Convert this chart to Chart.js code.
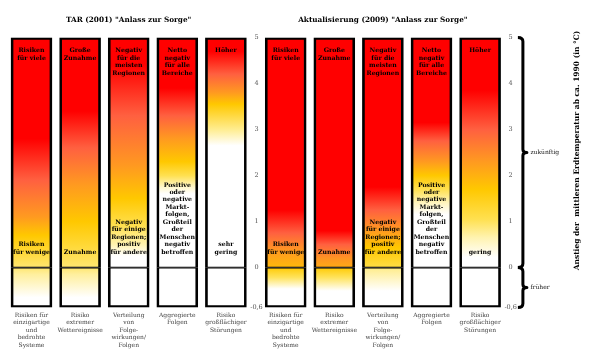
<!DOCTYPE html>
<html><head><meta charset="utf-8">
<script src="https://cdn.jsdelivr.net/npm/chart.js@4/dist/chart.umd.min.js"></script>
<style>
html,body{margin:0;padding:0;background:#fff;}
#wrap{position:relative;width:590px;height:359px;overflow:hidden;background:#fff;}
canvas{position:absolute;top:0;}
#cA{left:0}
#cB{left:258px}
</style></head><body>
<div id="wrap"><canvas id="cA" width="266" height="359"></canvas><canvas id="cB" width="332" height="359"></canvas></div>
<script>
// ---------------- DATA ----------------
const categories = [
  ["Risiken für","einzigartige","und","bedrohte","Systeme"],
  ["Risiko","extremer","Wettereignisse"],
  ["Verteilung","von","Folge-","wirkungen/","Folgen"],
  ["Aggregierte","Folgen"],
  ["Risiko","großflächiger","Störungen"]
];
const titleTAR = 'TAR (2001) "Anlass zur Sorge"';
const titleUpdate = 'Aktualisierung (2009) "Anlass zur Sorge"';
const axisTitle = "Anstieg der  mittleren Erdtemperatur ab ca. 1990 (in °C)";
const tempTicks = [-0.6, 0, 1, 2, 3, 4, 5];
const pastRange = [-0.6, 0];     // "früher"
const futureRange = [0, 5];      // "zukünftig"
const pastLabel = "früher";
const futureLabel = "zukünftig";
const topLabels = [
  ["Risiken","für viele"],
  ["Große","Zunahme"],
  ["Negativ","für die","meisten","Regionen"],
  ["Netto","negativ","für alle","Bereiche"],
  ["Höher"]
];
const bottomLabelsTAR = [
  ["Risiken","für wenige"],
  ["Zunahme"],
  ["Negativ","für einige","Regionen;","positiv","für andere"],
  ["Positive","oder","negative","Markt-","folgen,","Großteil","der","Menschen","negativ","betroffen"],
  ["sehr","gering"]
];
const bottomLabelsUpdate = [
  ["Risiken","für wenige"],
  ["Zunahme"],
  ["Negativ","für einige","Regionen;","positiv","für andere"],
  ["Positive","oder","negative","Markt-","folgen,","Großteil","der","Menschen","negativ","betroffen"],
  ["gering"]
];
// risk level (0 = none, 1 = high) at temperature, per category
const riskTAR = [
  [[5,1],[2.8,1],[1.9,0.8],[1.1,0.6],[0.7,0.45],[0.35,0.35],[0,0.25],[-0.1,0.18],[-0.45,0],[-0.6,0]],
  [[5,1],[3.4,1],[2.6,0.8],[1.8,0.6],[1.0,0.45],[0.5,0.35],[0,0.25],[-0.1,0.18],[-0.45,0],[-0.6,0]],
  [[5,1],[4.4,1],[3.3,0.8],[2.2,0.6],[1.5,0.45],[0.9,0.3],[0.5,0.15],[0.25,0],[-0.6,0]],
  [[5,1],[3.9,1],[3.3,0.8],[2.8,0.6],[2.3,0.45],[2.0,0.3],[1.75,0.1],[1.6,0],[-0.6,0]],
  [[5,1],[4.7,1],[4.2,0.8],[3.8,0.6],[3.55,0.45],[3.0,0.2],[2.65,0],[-0.6,0]]
];
const riskUpdate = [
  [[5,1],[1.25,1],[0.75,0.8],[0.35,0.6],[0,0.5],[-0.02,0.42],[-0.15,0.28],[-0.32,0],[-0.6,0]],
  [[5,1],[0.8,1],[0.5,0.8],[0.2,0.62],[0,0.55],[-0.02,0.42],[-0.15,0.28],[-0.35,0],[-0.6,0]],
  [[5,1],[1.75,1],[1.25,0.8],[0.8,0.6],[0.43,0.45],[0,0.32],[-0.02,0.2],[-0.35,0],[-0.6,0]],
  [[5,1],[3.15,1],[2.75,0.8],[2.3,0.6],[2.0,0.45],[1.7,0.3],[1.4,0.12],[1.15,0],[-0.6,0]],
  [[5,1],[3.85,1],[3.0,0.8],[2.3,0.6],[1.7,0.45],[1.05,0.3],[0.65,0.15],[0.22,0],[-0.6,0]]
];

// ---------------- STYLE / CODE ----------------
const FONT = '"DejaVu Serif", serif';
const RISK_PALETTE = [[0,[255,255,255]],[0.15,[255,243,176]],[0.3,[255,224,80]],[0.45,[255,200,0]],[0.6,[255,154,32]],[0.8,[255,96,64]],[1,[255,0,0]]];
function riskColor(r){
  for (let i=1;i<RISK_PALETTE.length;i++){
    const [r1,c1]=RISK_PALETTE[i-1],[r2,c2]=RISK_PALETTE[i];
    if (r<=r2){const t=(r-r1)/(r2-r1);return 'rgb('+c1.map((c,k)=>Math.round(c+(c2[k]-c)*t)).join(',')+')';}
  }
  return 'rgb(255,0,0)';
}
const BELOW_ZERO_SHARE = 0.148;
class BrokenLinearScale extends Chart.LinearScale {
  static id = 'brokenLinear';
  _zeroPx(){ return this.bottom - (this.bottom - this.top) * BELOW_ZERO_SHARE; }
  getPixelForValue(v){
    const z=this._zeroPx();
    if (v>=0) return z - (v/this.max)*(z-this.top);
    return z + (v/this.min)*(this.bottom-z);
  }
  getValueForPixel(p){
    const z=this._zeroPx();
    if (p<=z) return (z-p)/(z-this.top)*this.max;
    return (p-z)/(this.bottom-z)*this.min;
  }
}
Chart.register(BrokenLinearScale);

function gradientFor(ctx, risk){
  const chart=ctx.chart; if(!chart.chartArea) return '#fff';
  const y=chart.scales.y;
  const yTop=y.getPixelForValue(futureRange[1]), yBot=y.getPixelForValue(pastRange[0]);
  const g=chart.ctx.createLinearGradient(0,yBot,0,yTop);
  risk[ctx.dataIndex].forEach(([v,r])=>{
    g.addColorStop(Math.min(1,Math.max(0,(yBot-y.getPixelForValue(v))/(yBot-yTop))), riskColor(r));
  });
  return g;
}

function barTextPlugin(bottomLabels){
  return {
    id:'barText',
    afterDatasetsDraw(chart){
      const {ctx}=chart, y=chart.scales.y, meta=chart.getDatasetMeta(1);
      const lh=7.45;
      ctx.save();
      ctx.font='bold 6.2px '+FONT; ctx.fillStyle='#000'; ctx.textAlign='center'; ctx.textBaseline='middle';
      meta.data.forEach((bar,i)=>{
        const yt=y.getPixelForValue(futureRange[1])+13.3;
        topLabels[i].forEach((t,k)=>ctx.fillText(t,bar.x,yt+k*lh));
        const yb=y.getPixelForValue(0)-15.5, b=bottomLabels[i];
        b.forEach((t,k)=>ctx.fillText(t,bar.x,yb-(b.length-1-k)*lh));
      });
      ctx.restore();
    }
  };
}

const bracePlugin = {
  id:'brace',
  afterDraw(chart){
    const {ctx}=chart, y=chart.scales.y;
    const x=y.right+4.5;
    const y5=y.getPixelForValue(futureRange[1]), y0=y.getPixelForValue(0), yp=y.getPixelForValue(pastRange[0]);
    const ym1=y.getPixelForValue((futureRange[0]+futureRange[1])/2), ym2=y.getPixelForValue((pastRange[0]+pastRange[1])/2);
    ctx.save();
    ctx.strokeStyle='#000'; ctx.lineWidth=3; ctx.lineCap='butt'; ctx.lineJoin='round';
    function brace(a,m,b){
      ctx.beginPath();
      ctx.moveTo(x-5,a);
      ctx.quadraticCurveTo(x,a,x,a+4);
      ctx.lineTo(x,m-3);
      ctx.quadraticCurveTo(x,m,x+4,m);
      ctx.quadraticCurveTo(x,m,x,m+3);
      ctx.lineTo(x,b-4);
      ctx.quadraticCurveTo(x,b,x-5,b);
      ctx.stroke();
    }
    brace(y5,ym1,y0);
    brace(y0,ym2,yp);
    ctx.fillStyle='#111'; ctx.font='6px '+FONT; ctx.textAlign='left'; ctx.textBaseline='middle';
    ctx.fillText(futureLabel,x+7.5,ym1);
    ctx.fillText(pastLabel,x+7.5,ym2);
    ctx.translate(x+54.5, ym1-2);
    ctx.rotate(-Math.PI/2);
    ctx.font='bold 7.5px '+FONT; ctx.fillStyle='#000'; ctx.textAlign='center';
    ctx.fillText(axisTitle,0,0);
    ctx.restore();
  }
};

function buildChart(id, title, risk, bottomLabels, padLeft, padRight, extra){
  const ds=(range,bw)=>({
    data: categories.map(()=>range),
    backgroundColor: c=>gradientFor(c,risk),
    borderColor:'#000', borderWidth:bw, borderSkipped:false,
    barThickness:41, grouped:false
  });
  return new Chart(document.getElementById(id),{
    type:'bar',
    data:{labels:categories, datasets:[
      ds(pastRange,{top:1.2,left:2.7,right:2.7,bottom:2.7}),
      ds(futureRange,{top:2.7,left:2.7,right:2.7,bottom:1.2})
    ]},
    options:{
      responsive:false, animation:false, devicePixelRatio:1,
      layout:{padding:{left:padLeft,right:padRight,top:0,bottom:0}},
      plugins:{
        legend:{display:false}, tooltip:{enabled:false},
        title:{display:true,text:title,fullSize:false,color:'#000',
          font:{family:FONT,size:7.3,weight:'bold',lineHeight:1.2},padding:{top:15.6,bottom:13.1}}
      },
      scales:{
        x:{grid:{display:false,drawTicks:false},border:{display:false},
           ticks:{padding:4,color:'#444',font:{family:FONT,size:6,lineHeight:'7.5px'},maxRotation:0,minRotation:0,autoSkip:false},
           afterFit:s=>{s.height=51.5;}},
        y:{type:'brokenLinear',position:'right',min:pastRange[0],max:futureRange[1],
           grid:{display:false,drawTicks:false},border:{display:false},
           afterBuildTicks:s=>{s.ticks=tempTicks.map(v=>({value:v}));},
           afterFit:s=>{s.width=14;},
           ticks:{padding:0,crossAlign:'center',color:'#555',autoSkip:false,
             font:{family:FONT,size:6.5},callback:v=>String(v).replace('.',',')}}
      }
    },
    plugins:[barTextPlugin(bottomLabels)].concat(extra||[])
  });
}
buildChart('cA', titleTAR, riskTAR, bottomLabelsTAR, 7.2, 1.8);
buildChart('cB', titleUpdate, riskUpdate, bottomLabelsUpdate, 3.4, 71.6, [bracePlugin]);
</script>
</body></html>
